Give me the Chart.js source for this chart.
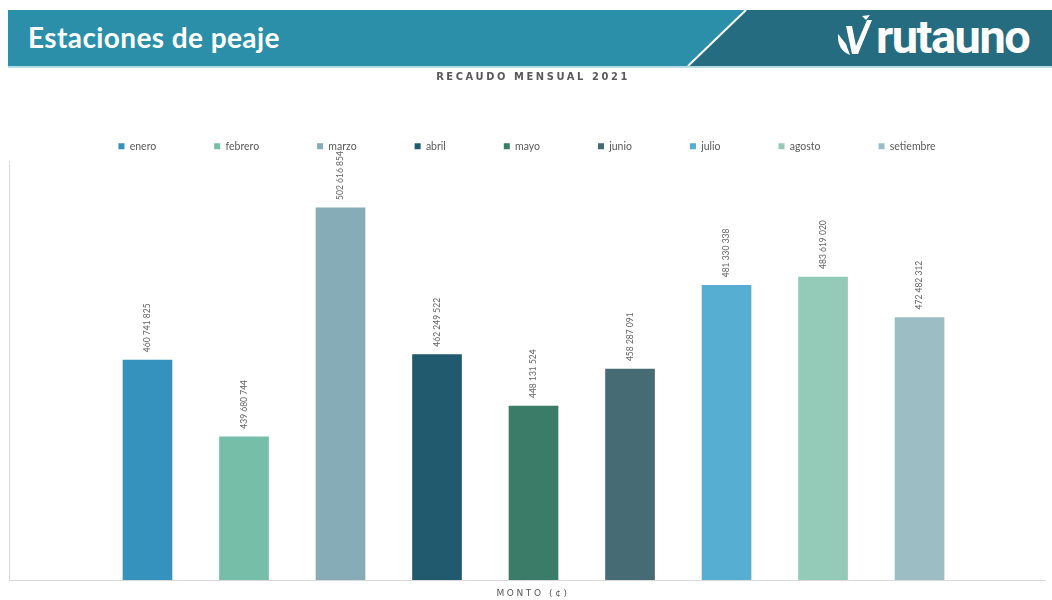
<!DOCTYPE html>
<html>
<head>
<meta charset="utf-8">
<script src="https://cdn.jsdelivr.net/npm/chart.js@4/dist/chart.umd.min.js"></script>
<style>
  body { margin: 0; width: 1052px; height: 600px; background: #fff; position: relative; overflow: hidden; font-family: Lato, "Open Sans", sans-serif; }
  #banner { position: absolute; left: 0; top: 0; }
  #head { position: absolute; left: 28px; top: 20px; color: #fff; font: bold 28px Lato, sans-serif; letter-spacing: 0.4px; }
  #logo { position: absolute; left: 876px; top: 9px; color: #fff; font: bold 47px Roboto, sans-serif; letter-spacing: -1.5px; }
  #title { position: absolute; left: 0; width: 1066px; top: 70px; text-align: center; color: #595959; font: bold 11px "DejaVu Sans Condensed", sans-serif; letter-spacing: 2.6px; z-index: 2; }
  #xtitle { position: absolute; left: 0; width: 1066px; top: 588px; text-align: center; color: #595959; font: 9px "DejaVu Sans", sans-serif; letter-spacing: 2.6px; }
  #wrap { position: absolute; left: 0; top: 80px; width: 1052px; height: 520px; }
</style>
</head>
<body>
<svg id="banner" width="1052" height="70">
  <rect x="8" y="10" width="1044" height="56" fill="#2c8fa9"/>
  <polygon points="747,10 1052,10 1052,66 689,66" fill="#256c81"/>
  <line x1="746" y1="10" x2="688" y2="66" stroke="#fff" stroke-width="2"/>
  <rect x="8" y="66" width="1044" height="2" fill="#b8dbe5"/>
  <path d="M846,26 L852,26 L856,46 L867,20 L872,20 L858,54 L852,54 Z" fill="#fff"/>
  <path d="M838,34 Q837,50 850,55 L846,44 Z" fill="#fff"/>
  <path d="M862,16 L870,15 L866,20 Z" fill="#fff"/>
</svg>
<div id="head">Estaciones de peaje</div>
<div id="logo">rutauno</div>
<div id="title">RECAUDO MENSUAL 2021</div>
<div id="wrap"><canvas id="chart"></canvas></div>
<div id="xtitle">MONTO (¢)</div>
<script>
var months = ["enero", "febrero", "marzo", "abril", "mayo", "junio", "julio", "agosto", "setiembre"];
var montos = [460741825, 439680744, 502616854, 462249522, 448131524, 458287091, 481330338, 483619020, 472482312];
var colores = ["#3492bc", "#76bea7", "#86adb7", "#215a6e", "#3b7c68", "#466b75", "#56aed2", "#93cbb8", "#9dbdc5"];

var fmt = function (v) {
  return v.toString().replace(/\B(?=(\d{3})+(?!\d))/g, " ");
};

// etiquetas verticales sobre cada barra
var etiquetas = {
  id: "etiquetas",
  afterDatasetsDraw: function (chart) {
    var ctx = chart.ctx;
    var meta = chart.getDatasetMeta(0);
    ctx.save();
    ctx.fillStyle = "#666666";
    ctx.font = "8.5px Lato, sans-serif";
    ctx.textAlign = "left";
    ctx.textBaseline = "middle";
    meta.data.forEach(function (bar, i) {
      ctx.save();
      ctx.translate(bar.x, bar.y - 7);
      ctx.rotate(-Math.PI / 2);
      ctx.fillText(fmt(montos[i]), 0, 0);
      ctx.restore();
    });
    ctx.restore();
  }
};

var ctx = document.getElementById("chart").getContext("2d");
var myChart = new Chart(ctx, {
  type: "bar",
  data: {
    labels: months,
    datasets: [{
      data: montos.map(function (v, i) { return { x: i, y: v }; }),
      backgroundColor: colores,
      borderColor: "rgba(255,255,255,0.5)",
      borderWidth: 1,
      barThickness: 51
    }]
  },
  options: {
    responsive: true,
    maintainAspectRatio: false,
    animation: false,
    layout: { padding: { left: 9, right: 7, top: 3, bottom: 20 } },
    plugins: {
      title: { display: false },
      tooltip: { enabled: false },
      legend: {
        position: "top",
        onClick: null,
        labels: {
          boxWidth: 6,
          boxHeight: 6,
          padding: 58,
          color: "#595959",
          font: { family: "Lato", size: 10.5 },
          generateLabels: function (chart) {
            return months.map(function (m, i) {
              return { text: m, fillStyle: colores[i], strokeStyle: colores[i], lineWidth: 0, hidden: false, index: i, fontColor: "#595959" };
            });
          }
        }
      }
    },
    scales: {
      x: {
        type: "linear",
        offset: false,
        min: -1.435,
        max: 9.3,
        ticks: { display: false },
        grid: { display: false, drawTicks: false, offset: false },
        border: { display: true, color: "#d9d9d9", width: 1 }
      },
      y: {
        min: 400000000,
        max: 515100000,
        ticks: { display: false },
        grid: { display: false, drawTicks: false },
        border: { display: true, color: "#d9d9d9", width: 1 }
      }
    }
  },
  plugins: [etiquetas]
});
</script>
</body>
</html>
